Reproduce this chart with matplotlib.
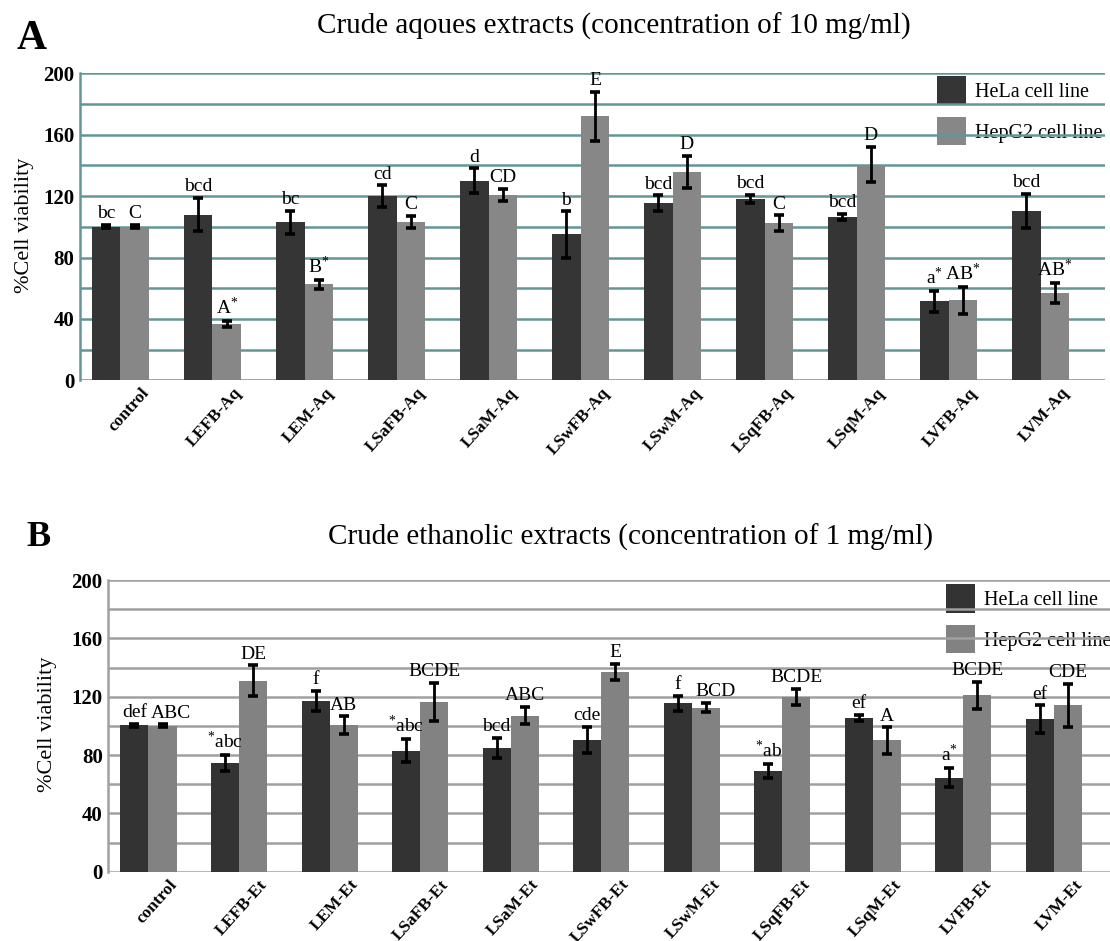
import numpy as np
import matplotlib.pyplot as plt
import matplotlib.transforms as mtrans
from matplotlib.ticker import MultipleLocator

plt.rcParams['font.family'] = ['Liberation Serif', 'DejaVu Serif']
plt.rcParams['mathtext.fontset'] = 'custom'
plt.rcParams['mathtext.rm'] = 'Liberation Serif'

# Panel A: crude aqueous extracts (10 mg/ml)
cats_a = ['control', 'LEFB-Aq', 'LEM-Aq', 'LSaFB-Aq', 'LSaM-Aq', 'LSwFB-Aq',
          'LSwM-Aq', 'LSqFB-Aq', 'LSqM-Aq', 'LVFB-Aq', 'LVM-Aq']
hela_a = [100, 108, 103, 120, 130, 95, 115.5, 118, 106.5, 51.5, 110.5]
hela_a_err = [1, 11, 7.5, 7, 8, 15, 5, 2.7, 2, 7, 11]
hep_a = [100, 36.5, 62.5, 103, 120.5, 172, 135.5, 102.5, 140.5, 52, 57]
hep_a_err = [1, 2, 3, 4, 4, 16, 10.5, 5, 11.5, 9, 6.5]
hela_a_lab = ['bc', 'bcd', 'bc', 'cd', 'd', 'b', 'bcd', 'bcd', 'bcd',
              r'$\mathregular{a^{*}}$', 'bcd']
hep_a_lab = ['C', r'$\mathregular{A^{*}}$', r'$\mathregular{B^{*}}$', 'C', 'CD', 'E', 'D', 'C',
             'D', r'$\mathregular{AB^{*}}$', r'$\mathregular{AB^{*}}$']

# Panel B: crude ethanolic extracts (1 mg/ml)
cats_b = ['control', 'LEFB-Et', 'LEM-Et', 'LSaFB-Et', 'LSaM-Et', 'LSwFB-Et',
          'LSwM-Et', 'LSqFB-Et', 'LSqM-Et', 'LVFB-Et', 'LVM-Et']
hela_b = [100.5, 74.5, 117, 83, 85, 90.5, 115.5, 69, 105.5, 64.5, 104.5]
hela_b_err = [1, 5.5, 7, 8, 7, 9, 5, 4.7, 2, 6.5, 9.5]
hep_b = [100, 131, 100.5, 116.5, 107, 137, 112.5, 120, 90, 121, 114]
hep_b_err = [1, 10.5, 6, 13, 6, 5.5, 3, 5.5, 9, 9.2, 15]
hela_b_lab = ['def', r'$\mathregular{{}^{*}abc}$', 'f', r'$\mathregular{{}^{*}abc}$', 'bcd', 'cde',
              'f', r'$\mathregular{{}^{*}ab}$', 'ef', r'$\mathregular{a^{*}}$', 'ef']
hep_b_lab = ['ABC', 'DE', 'AB', 'BCDE', 'ABC', 'E', 'BCD', 'BCDE', 'A', 'BCDE', 'CDE']

fig = plt.figure(figsize=(11.1, 9.41), dpi=100)


def panel(rect, cats, hela, hela_err, hep, hep_err, hela_lab, hep_lab,
          xlim, width, grid_color, c_dark, c_light, nudge):
    ax = fig.add_axes(rect)
    x = np.arange(len(cats))
    ax.bar(x - width / 2, hela, width, color=c_dark, label='HeLa cell line', zorder=2)
    ax.bar(x + width / 2, hep, width, color=c_light, label='HepG2 cell line', zorder=2)
    ax.errorbar(x - width / 2, hela, yerr=hela_err, fmt='none', ecolor='black',
                elinewidth=2, capsize=3.3, capthick=2.6, zorder=3)
    ax.errorbar(x + width / 2, hep, yerr=hep_err, fmt='none', ecolor='black',
                elinewidth=2, capsize=3.3, capthick=2.6, zorder=3)
    for xi, v, e, t in zip(x - width / 2, hela, hela_err, hela_lab):
        ax.annotate(t, (xi, v + e), xytext=(0, 2), textcoords='offset points',
                    ha='center', va='bottom', fontsize=14)
    for i, (xi, v, e, t) in enumerate(zip(x + width / 2, hep, hep_err, hep_lab)):
        ax.annotate(t, (xi, v + e), xytext=(nudge.get(i, 0), 2), textcoords='offset points',
                    ha='center', va='bottom', fontsize=14)

    ax.set_xlim(*xlim)
    ax.set_ylim(0, 200)
    ax.yaxis.set_major_locator(MultipleLocator(40))
    ax.yaxis.set_minor_locator(MultipleLocator(20))
    ax.set_axisbelow(True)
    ax.grid(axis='y', which='both', color=grid_color, linewidth=1.8)
    for s in ['top', 'right', 'bottom']:
        ax.spines[s].set_visible(False)
    ax.spines['left'].set_color(grid_color)
    ax.spines['left'].set_linewidth(1.8)
    ax.tick_params(axis='both', which='both', length=0)
    ax.tick_params(axis='y', pad=4, labelsize=15)
    for lab in ax.get_yticklabels():
        lab.set_fontweight('bold')

    ax.set_xticks(x)
    ax.set_xticklabels(cats, rotation=48, ha='right', rotation_mode='anchor',
                       fontsize=12.5, fontweight='bold')
    shift = mtrans.ScaledTranslation(0.2, 0, fig.dpi_scale_trans)
    for lab in ax.get_xticklabels():
        lab.set_transform(lab.get_transform() + shift)

    ax.set_ylabel('%Cell viability', fontsize=16)
    leg = ax.legend(loc='upper left', frameon=False, fontsize=14.5,
                    handlelength=1.45, handleheight=1.8, handletextpad=0.45,
                    labelspacing=0.6, borderpad=0, borderaxespad=0)
    leg.set_zorder(0.3)
    return ax, leg


ax_a, leg_a = panel([80 / 1110, 1 - 380.3 / 941, 1025 / 1110, 307 / 941],
                    cats_a, hela_a, hela_a_err, hep_a, hep_a_err, hela_a_lab, hep_a_lab,
                    (-0.44, 10.70), 0.312, '#639696', '#353535', '#878787', {})
leg_a.set_bbox_to_anchor((0.836, 0.99))
ax_a.yaxis.set_label_coords(-0.045, 0.506)

ax_b, leg_b = panel([108.3 / 1110, 1 - 871.7 / 941, 1001.7 / 1110, 291.7 / 941],
                    cats_b, hela_b, hela_b_err, hep_b, hep_b_err, hela_b_lab, hep_b_lab,
                    (-0.444, 10.62), 0.31, '#a0a0a0', '#333333', '#828282', {0: 6, 6: 7})
leg_b.set_bbox_to_anchor((0.836, 0.985))
ax_b.yaxis.set_label_coords(-0.051, 0.506)

fig.text(17 / 1110, 1 - 49 / 941, 'A', fontsize=30, fontweight='bold')
fig.text(26 / 1110, 1 - 546 / 941, 'B', fontsize=26, fontweight='bold')
fig.text(614 / 1110, 1 - 26 / 941, 'Crude aqoues extracts (concentration of 10 mg/ml)',
         ha='center', va='center', fontsize=21)
fig.text(630 / 1110, 1 - 537 / 941, 'Crude ethanolic extracts (concentration of 1 mg/ml)',
         ha='center', va='center', fontsize=21)

fig.savefig('out.png', dpi=100)
